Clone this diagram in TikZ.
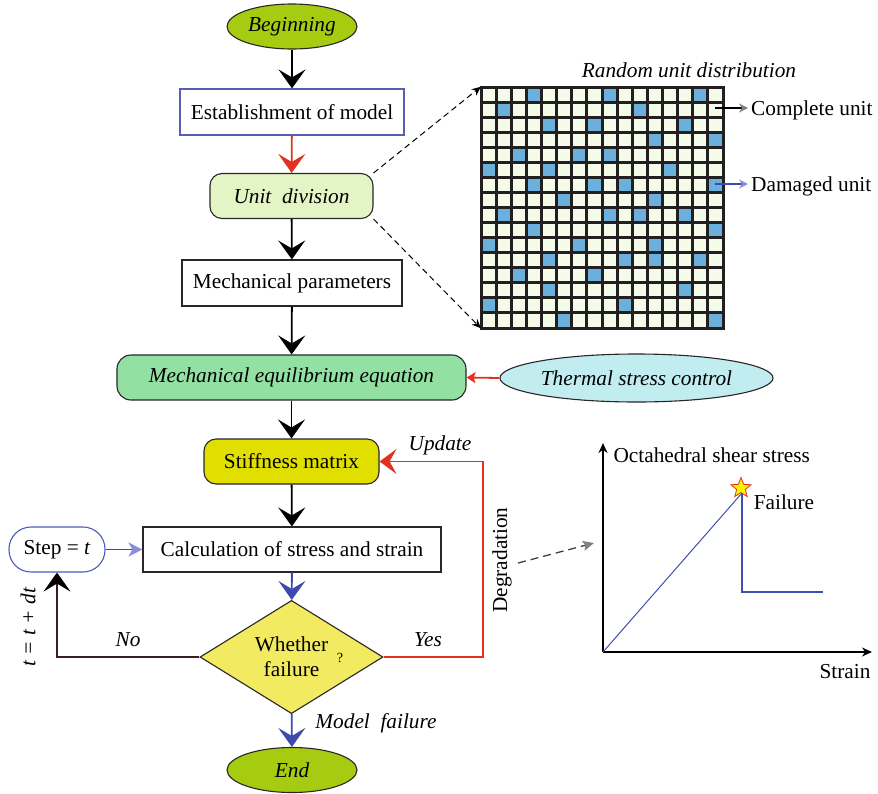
\documentclass[tikz,border=0pt]{standalone}
\usepackage{fontspec}
\setmainfont{Liberation Serif}
\usetikzlibrary{arrows.meta,shapes.geometric}
\definecolor{boxline}{HTML}{2A2526}
\definecolor{cBegin}{HTML}{A5CC10}
\definecolor{cEstab}{HTML}{5A5EB0}
\definecolor{cUnit}{HTML}{E3F5C4}
\definecolor{cMech}{HTML}{93E0A3}
\definecolor{cThermal}{HTML}{C2EDF0}
\definecolor{cStiff}{HTML}{E1DF00}
\definecolor{cDia}{HTML}{F2EA60}
\definecolor{cStep}{HTML}{4A5ABF}
\definecolor{cRed}{HTML}{E2321E}
\definecolor{cBlue}{HTML}{3F4AAD}
\definecolor{cLightBlue}{HTML}{8A8ED8}
\definecolor{cBrown}{HTML}{3C1E1E}
\definecolor{cCell}{HTML}{F5FBE9}
\definecolor{cBlueCell}{HTML}{6BAFDC}
\definecolor{cGridLine}{HTML}{231F20}
\definecolor{cGraph}{HTML}{4050B0}
\definecolor{cGray}{HTML}{404040}
\begin{document}
\begin{tikzpicture}[x=1pt,y=-1pt,
  txt/.style={font=\fontsize{21.3}{25}\selectfont},
  itxt/.style={font=\fontsize{21.3}{25}\selectfont\itshape},
  box/.style={draw=boxline, line width=1.1pt, inner sep=0pt, txt},
  bigarrow/.style={-{Stealth[length=19pt,width=27pt,inset=8pt]}, line width=1.8pt},
  gridline/.style={cGridLine, line width=3pt, line cap=rect},
  longdash/.style={dash pattern=on 6pt off 4pt}
]
\useasboundingbox (0,0) rectangle (878,793);

% ---------- flowchart nodes ----------
\node[ellipse, box, fill=cBegin, minimum width=130pt, minimum height=45pt, itxt] (begin) at (292,26.5) {Beginning};
\node[rectangle, box, draw=cEstab, fill=white, minimum width=224pt, minimum height=46pt] (estab) at (292,112) {Establishment of model};
\node[rectangle, box, rounded corners=12pt, fill=cUnit, minimum width=163pt, minimum height=45pt, itxt] (unit) at (291.5,196) {Unit\ \ division};
\node[rectangle, box, minimum width=220pt, minimum height=46pt] (mparam) at (292,283) {Mechanical parameters};
\node[rectangle, box, rounded corners=14pt, fill=cMech, minimum width=349pt, minimum height=45pt, itxt] (meq) at (291.5,377.5) {Mechanical equilibrium equation};
\node[ellipse, box, fill=cThermal, minimum width=273pt, minimum height=48pt, itxt] (thermal) at (636.5,378) {Thermal stress control};
\node[rectangle, box, rounded corners=12pt, fill=cStiff, minimum width=175pt, minimum height=45pt] (stiff) at (291.5,461.5) {Stiffness matrix};
\node[rectangle, box, minimum width=298pt, minimum height=45pt] (calc) at (292,549.5) {Calculation of stress and strain};
\node[rectangle, box, draw=cStep, rounded corners=22pt, minimum width=96pt, minimum height=45pt] (step) at (57,549.5) {Step = \textit{t}};
\node[diamond, box, fill=cDia, minimum width=183pt, minimum height=90pt, align=center] (dia) at (291.5,657) {Whether\\failure};
\node[font=\fontsize{14}{16}\selectfont, inner sep=0pt] (qmark) at (340,658) {?};
\node[ellipse, box, fill=cBegin, minimum width=130pt, minimum height=45pt, itxt] (end) at (292,770) {End};

% ---------- flowchart connectors ----------
\draw[bigarrow, black] (begin) -- (estab);
\draw[bigarrow, cRed] (estab) -- (unit);
\draw[bigarrow, black] (unit) -- (mparam);
\draw[bigarrow, black] (mparam) -- (meq);
\draw[cRed, line width=1.8pt, -{Stealth[length=9pt,width=11pt,inset=2pt]}] (thermal.west) -- (meq.east);
\draw[bigarrow, black] (meq) -- (stiff);
\draw[bigarrow, black] (stiff) -- (calc);
\draw[bigarrow, cBlue] (calc) -- (dia);
\draw[bigarrow, cBlue] (dia) -- (end);
\draw[cBlue, line width=1.8pt, -{Stealth[length=14pt,width=14pt,inset=4pt,color=cLightBlue]}] (step) -- (calc);

\coordinate (ycorner) at (483,657);
\draw[cRed, line width=1.5pt, -{Stealth[length=17pt,width=25pt,inset=7pt]}] (dia.east) -- (ycorner) |- (stiff.east);
\draw[cBrown, line width=1.8pt, -{Stealth[length=19pt,width=27pt,inset=8pt,color=black]}] (dia.west) -| (step.south);

% ---------- flowchart labels ----------
\node[itxt] (upd) at (440,445) {Update};
\node[itxt] (yes) at (428,640) {Yes};
\node[itxt] (no) at (128,640) {No};
\node[itxt] (mf) at (376,723) {Model\ \ failure};
\node[itxt, rotate=90] (tdt) at (28,627) {t = t + dt};

% ---------- grid ----------
\node[rectangle, fill=cCell, minimum width=242pt, minimum height=241pt, inner sep=0pt] (grid) at (602,207.5) {};
\foreach \c/\r in {3/0,8/0,14/0, 1/1,10/1, 4/2,7/2,13/2, 11/3,15/3, 2/4,6/4,8/4,
  0/5,4/5,12/5, 3/6,7/6,9/6,15/6, 5/7,11/7, 1/8,8/8,10/8,13/8, 3/9,15/9,
  0/10,6/10,11/10, 4/11,9/11,11/11,14/11, 2/12,7/12, 4/13,13/13, 0/14,9/14, 5/15,15/15}
  \fill[cBlueCell] ({481+\c*15.125},{87+\r*15.0625}) rectangle ++(15.125,15.0625);
\foreach \i in {0,...,16} {
  \draw[gridline] ({481+\i*15.125},87) -- ++(0,241);
  \draw[gridline] (481,{87+\i*15.0625}) -- ++(242,0);
}
\node[itxt] (gtitle) at (689,70) {Random unit distribution};
\draw[longdash, line width=1pt, -{Stealth[length=9pt,width=8pt]}] (unit.north east) -- (grid.north west);
\draw[longdash, line width=1pt, -{Stealth[length=9pt,width=8pt]}] (unit.south east) -- (grid.south west);

\coordinate (cu) at (715,108);
\node[txt, anchor=west, inner sep=0pt] (cul) at (751,110) {Complete unit};
\draw[black, line width=1.3pt, -{Stealth[length=9pt,width=9pt,color=gray]}] (cu) -- ([xshift=-3pt]cul.west |- cu);
\coordinate (du) at (715,184);
\node[txt, anchor=west, inner sep=0pt] (dul) at (751,186) {Damaged unit};
\draw[cBlue, line width=1.3pt, -{Stealth[length=9pt,width=9pt,color=cLightBlue]}] (du) -- ([xshift=-3pt]dul.west |- du);

% ---------- graph ----------
\node[txt, rotate=90] (degr) at (502,560) {Degradation};
\coordinate (dgs) at (518,563);
\coordinate (dge) at (594,543);
\draw[cGray, dash pattern=on 8pt off 5pt, line width=1.3pt, -{Stealth[length=11pt,width=10pt,inset=2pt,color=gray]}] (dgs) -- (dge);

\coordinate (O) at (603,652);
\coordinate (ytop) at (603,443);
\coordinate (xend) at (872,652);
\draw[black, line width=1.7pt, -{Stealth[length=10pt,width=9pt]}] (O) -- (ytop);
\draw[black, line width=1.7pt, -{Stealth[length=10pt,width=9pt]}] (O) -- (xend);
\node[txt, anchor=west] (ylab) at (610,455) {Octahedral shear stress};
\node[txt] (xlab) at (845,672) {Strain};
\coordinate (peak) at (742,493);
\coordinate (drop) at (742,592);
\coordinate (tail) at (823,592);
\draw[cGraph, line width=1pt] (O) -- (peak);
\draw[cGraph, line width=2.2pt] (peak) -- (drop) -- (tail);
\node[star, star points=5, star point ratio=2.3, minimum size=21pt, inner sep=0pt, fill=yellow, draw=cRed, line width=0.8pt] (star) at (741,488) {};
\node[txt] (fail) at (784,502) {Failure};
\end{tikzpicture}
\end{document}
